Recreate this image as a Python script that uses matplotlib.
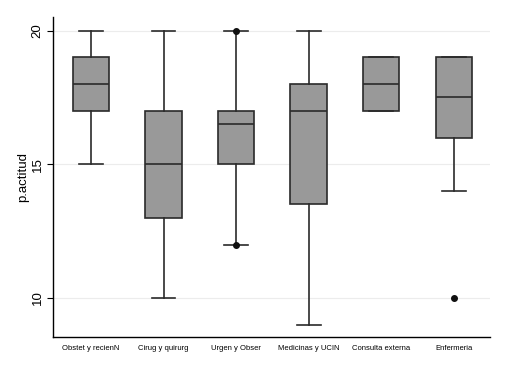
import matplotlib.pyplot as plt

plt.rcParams['font.family'] = ['Liberation Sans', 'DejaVu Sans']

# Servicios y estadisticos del boxplot
servicios = ['Obstet y recienN', 'Cirug y quirurg', 'Urgen y Obser',
             'Medicinas y UCIN', 'Consulta externa', 'Enfermeria']
q1 = [17, 13, 15, 13.5, 17, 16]
mediana = [18, 15, 16.5, 17, 18, 17.5]
q3 = [19, 17, 17, 18, 19, 19]
bigote_inf = [15, 10, 12, 9, 17, 14]
bigote_sup = [20, 20, 20, 20, 19, 19]
atipicos = [[], [], [12, 20], [], [], [10]]

stats = []
for i in range(len(servicios)):
    stats.append({
        'label': servicios[i],
        'q1': q1[i], 'med': mediana[i], 'q3': q3[i],
        'whislo': bigote_inf[i], 'whishi': bigote_sup[i],
        'fliers': atipicos[i],
    })

fig = plt.figure(figsize=(5.12, 3.73), dpi=100)
ax = fig.add_axes([0.104, 0.097, 0.853, 0.857])

for y in [10, 15, 20]:
    ax.axhline(y, color='#ececec', lw=0.8, zorder=0)

ax.bxp(stats, widths=0.5, capwidths=0.33, patch_artist=True,
       boxprops=dict(facecolor='#999999', edgecolor='#2a2a2a', lw=1.2),
       medianprops=dict(color='#2a2a2a', lw=1.2),
       whiskerprops=dict(color='#2a2a2a', lw=1.2),
       capprops=dict(color='#2a2a2a', lw=1.2),
       flierprops=dict(marker='o', markerfacecolor='#111111',
                       markeredgecolor='#111111', markersize=4))

ax.set_xlim(0.48, 6.5)
ax.set_ylim(8.55, 20.5)
ax.set_yticks([10, 15, 20])
ax.set_yticklabels(['10', '15', '20'], rotation=90, va='center', fontsize=9.5)
ax.set_xticklabels(servicios, fontsize=5.5)
ax.tick_params(axis='x', length=0, pad=6)
ax.tick_params(axis='y', length=4, width=0.8, pad=3)
ax.set_ylabel('p.actitud', fontsize=9.5, labelpad=2)

ax.spines['top'].set_visible(False)
ax.spines['right'].set_visible(False)
ax.spines['left'].set_linewidth(1.0)
ax.spines['bottom'].set_linewidth(1.0)

fig.savefig('out.png', dpi=100)
